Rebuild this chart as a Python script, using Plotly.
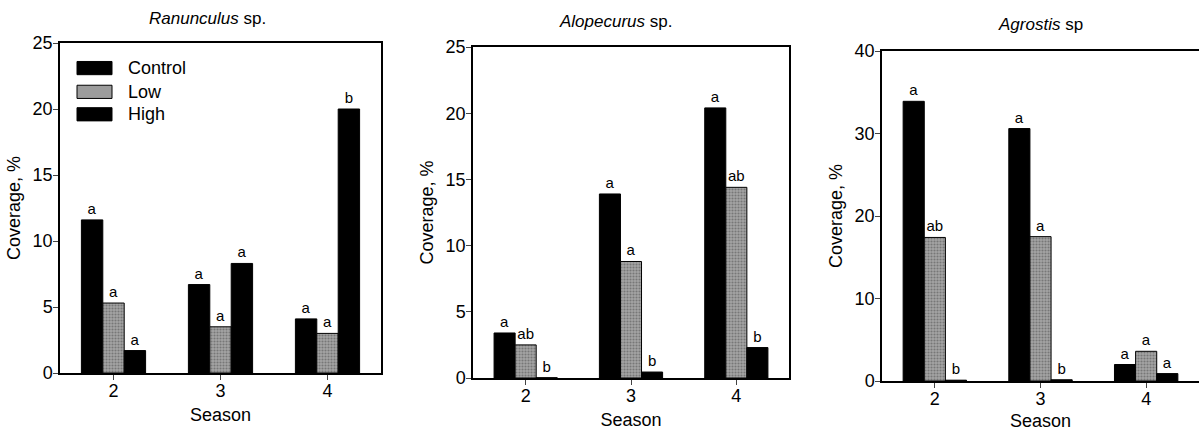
import plotly.graph_objects as go

seasons = ["2", "3", "4"]
treatments = ["Control", "Low", "High"]

# Ranunculus sp.
ran_control = [11.6, 6.7, 4.1]
ran_low = [5.3, 3.5, 3.0]
ran_high = [1.7, 8.3, 20.0]
ran_lab_control = ["a", "a", "a"]
ran_lab_low = ["a", "a", "a"]
ran_lab_high = ["a", "a", "b"]

# Alopecurus sp.
alo_control = [3.4, 13.9, 20.4]
alo_low = [2.5, 8.8, 14.4]
alo_high = [0.02, 0.45, 2.3]
alo_lab_control = ["a", "a", "a"]
alo_lab_low = ["ab", "a", "ab"]
alo_lab_high = ["b", "b", "b"]

# Agrostis sp
agr_control = [33.9, 30.6, 2.0]
agr_low = [17.4, 17.5, 3.6]
agr_high = [0.1, 0.15, 0.9]
agr_lab_control = ["a", "a", "a"]
agr_lab_low = ["ab", "a", "a"]
agr_lab_high = ["b", "b", "a"]

titles = ["<i>Ranunculus</i> sp.", "<i>Alopecurus</i> sp.", "<i>Agrostis</i> sp"]
y_max = [25, 25, 40]
y_dtick = [5, 5, 10]

panels = [
    (ran_control, ran_low, ran_high, ran_lab_control, ran_lab_low, ran_lab_high),
    (alo_control, alo_low, alo_high, alo_lab_control, alo_lab_low, alo_lab_high),
    (agr_control, agr_low, agr_high, agr_lab_control, agr_lab_low, agr_lab_high),
]

FONT = "Arial, Liberation Sans, sans-serif"
W, H = 1199, 431
# pixel boxes (left, right, top, bottom)
boxes = [(60, 381, 43, 373), (473, 789, 47, 378), (882, 1199, 51, 381)]
title_y = [19, 21, 25]
title_x = [0.46, 0.45, 0.5]

LOW_FILL = dict(color="#9c9c9c", line=dict(color="black", width=1),
                pattern=dict(shape=".", fgcolor="#4a4a4a", bgcolor="#a4a4a4", size=3, solidity=0.4))

fig = go.Figure()
x_num = [2, 3, 4]

for i, (c, l, h, lc, ll, lh) in enumerate(panels):
    xa = "x" if i == 0 else f"x{i+1}"
    ya = "y" if i == 0 else f"y{i+1}"
    styles = [
        dict(color="black", line=dict(color="black", width=1)),
        LOW_FILL,
        dict(color="black", line=dict(color="black", width=1)),
    ]
    for name, vals, labs, st in zip(treatments, (c, l, h), (lc, ll, lh), styles):
        fig.add_trace(go.Bar(
            x=x_num, y=vals, name=name, xaxis=xa, yaxis=ya,
            marker=st, text=labs, textposition="outside",
            textfont=dict(family=FONT, size=15, color="black"),
            constraintext="none", cliponaxis=False, showlegend=False,
            offsetgroup=name,
        ))

layout = dict(
    width=W, height=H, margin=dict(l=0, r=0, t=0, b=0, autoexpand=False),
    paper_bgcolor="white", plot_bgcolor="white",
    barmode="group", bargap=0.4, bargroupgap=0,
    font=dict(family=FONT, size=17, color="black"),
    showlegend=False,
)
annotations = []
shapes = []
for i, (L, R, T, B) in enumerate(boxes):
    suffix = "" if i == 0 else str(i + 1)
    xd = [L / W, min(R / W, 1.0)]
    yd = [(H - B) / H, (H - T) / H]
    layout["xaxis" + suffix] = dict(
        domain=xd, range=[1.5, 4.5], anchor="y" + suffix, automargin=False,
        tickvals=x_num, ticktext=seasons, ticks="outside", ticklen=5,
        ticklabelstandoff=-4,
        showline=True, linecolor="black", linewidth=1.5, mirror=True,
        showgrid=False, zeroline=False,
        tickfont=dict(size=18, family=FONT),
        title=dict(text="Season", font=dict(size=18, family=FONT), standoff=8),
    )
    layout["yaxis" + suffix] = dict(
        domain=yd, range=[0, y_max[i]], dtick=y_dtick[i], anchor="x" + suffix,
        automargin=False,
        ticks="outside", ticklen=5, ticklabelstandoff=-3,
        showline=True, linecolor="black", linewidth=1.5, mirror=(i < 2),
        showgrid=False, zeroline=False,
        tickfont=dict(size=18, family=FONT),
        title=dict(text="Coverage, %", font=dict(size=18, family=FONT), standoff=7),
    )
    annotations.append(dict(
        text=titles[i], xref="x" + suffix + " domain", yref="paper",
        x=title_x[i], y=(H - title_y[i]) / H, showarrow=False,
        font=dict(size=17, family=FONT), xanchor="center", yanchor="middle",
    ))

# manual legend in first panel
leg_items = [("Control", "black"), ("Low", "#9c9c9c"), ("High", "black")]
leg_y = [23.1, 21.3, 19.6]
for (name, col), yc in zip(leg_items, leg_y):
    shapes.append(dict(type="rect", xref="x domain", yref="y",
                       x0=0.053, x1=0.162, y0=yc - 0.5, y1=yc + 0.5,
                       fillcolor=col, line=dict(color="black", width=1)))
    annotations.append(dict(text=name, xref="x domain", yref="y", x=0.205, y=yc,
                            showarrow=False, xanchor="left", yanchor="middle",
                            font=dict(size=18, family=FONT)))

layout["annotations"] = annotations
layout["shapes"] = shapes
fig.update_layout(**layout)
fig.write_html("out.html")
